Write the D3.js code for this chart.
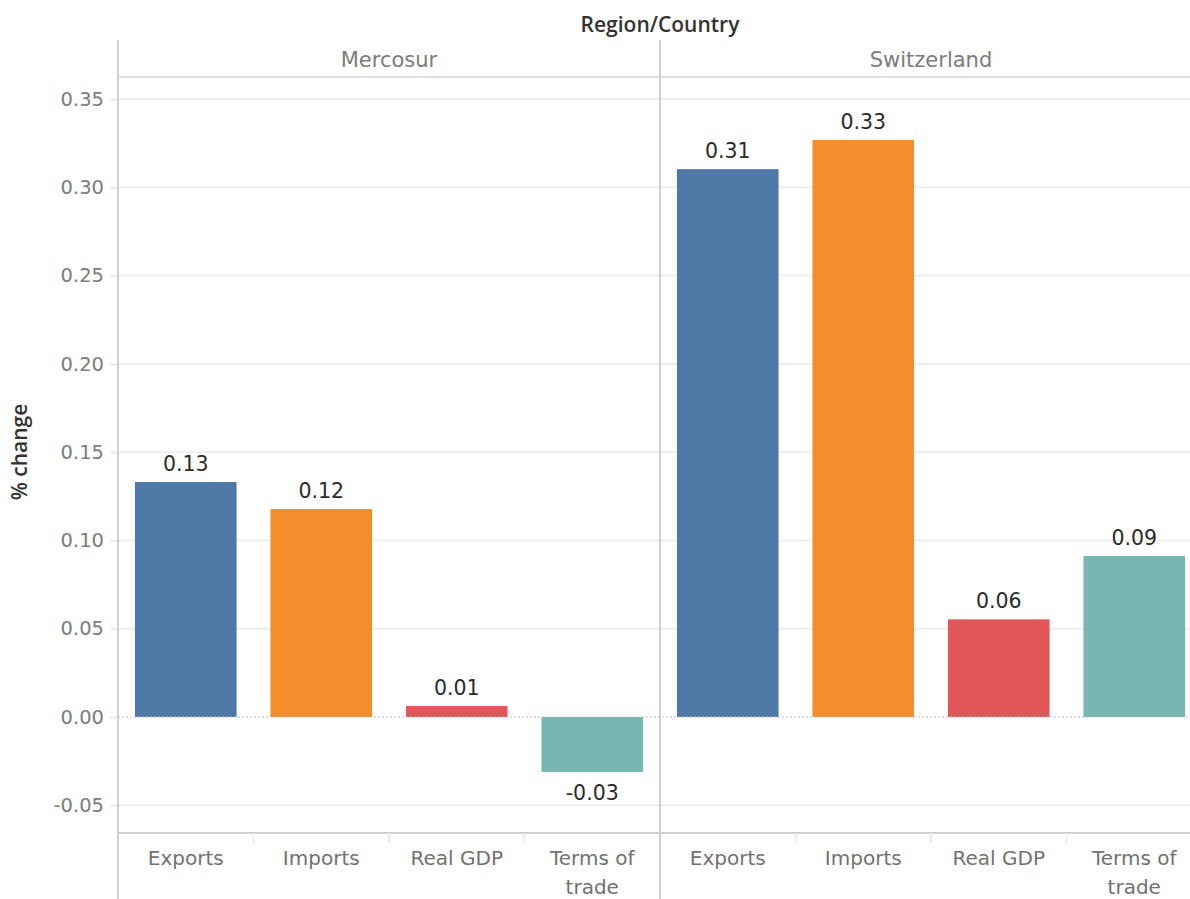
<!DOCTYPE html>
<html><head><meta charset="utf-8">
<script src="https://cdn.jsdelivr.net/npm/d3@7"></script>
<style>body{margin:0;background:#fff}svg{display:block}</style>
</head><body><svg id="c" width="1190" height="899"></svg>
<script>
const regions = ["Mercosur", "Switzerland"];
const measures = ["Exports", "Imports", "Real GDP", "Terms of trade"];
const mercosurValues = [0.1331, 0.1178, 0.0062, -0.0311];
const switzerlandValues = [0.3103, 0.3268, 0.0553, 0.0912];
const yTicks = [-0.05, 0, 0.05, 0.10, 0.15, 0.20, 0.25, 0.30, 0.35];
const colors = ["#4e79a7", "#f28e2b", "#e15759", "#76b7b2"];
const seriesByRegion = [mercosurValues, switzerlandValues];

(function () {
const svg = d3.select("#c");
const FONT = "'DejaVu Sans', sans-serif";
const TFONT = "'Open Sans', sans-serif";
const fmt = v => d3.format(".2f")(v).replace("\u2212", "-");
const plotLeft = 118, panelW = 542, plotTop = 77, plotBottom = 833;
const y = d3.scaleLinear().domain([-0.0657, 0.3625]).range([plotBottom, plotTop]);
const px = d3.scaleBand().domain(regions).range([plotLeft, plotLeft + panelW * 2]);
const color = d3.scaleOrdinal().domain(measures).range(colors);

const gAxis = svg.append("g").attr("transform", `translate(${plotLeft},0)`)
  .call(d3.axisLeft(y).tickValues(yTicks).tickFormat(fmt).tickSize(8).tickPadding(6));
gAxis.select(".domain").remove();
gAxis.selectAll(".tick line").attr("stroke", "#ececec").attr("stroke-width", 2);
gAxis.selectAll(".tick text").attr("fill", "#7c7c7c").style("font-family", FONT).style("font-size", "19.5px");
svg.append("g").selectAll("line").data(yTicks.filter(d => d !== 0)).join("line")
  .attr("x1", plotLeft).attr("x2", 1190).attr("y1", d => y(d)).attr("y2", d => y(d))
  .attr("stroke", "#efefef").attr("stroke-width", 2);

svg.append("line").attr("x1", plotLeft).attr("x2", 1190).attr("y1", plotTop).attr("y2", plotTop).attr("stroke", "#d4d4d4").attr("stroke-width", 1.5);
svg.append("line").attr("x1", plotLeft).attr("x2", 1190).attr("y1", plotBottom).attr("y2", plotBottom).attr("stroke", "#d0d0d0").attr("stroke-width", 2);
svg.append("line").attr("x1", plotLeft).attr("x2", plotLeft).attr("y1", 40).attr("y2", 899).attr("stroke", "#d0d0d0").attr("stroke-width", 2);
svg.append("line").attr("x1", plotLeft + panelW).attr("x2", plotLeft + panelW).attr("y1", 40).attr("y2", 899).attr("stroke", "#d0d0d0").attr("stroke-width", 2);

svg.append("text").attr("x", 660).attr("y", 32).attr("text-anchor", "middle")
  .attr("fill", "#333").style("font-family", TFONT).style("font-size", "21px").style("font-weight", 600).text("Region/Country");
svg.append("text").attr("transform", `translate(27,${452}) rotate(-90)`).attr("text-anchor", "middle")
  .attr("fill", "#333").style("font-family", TFONT).style("font-size", "21px").style("font-weight", 600).text("% change");

regions.forEach((r, ri) => {
  const x0 = px(r);
  const x = d3.scaleBand().domain(measures).range([x0, x0 + panelW]).paddingInner(0.25).paddingOuter(0.125);
  const g = svg.append("g");
  g.append("text").attr("x", x0 + panelW / 2).attr("y", 67).attr("text-anchor", "middle")
    .attr("fill", "#7c7c7c").style("font-family", FONT).style("font-size", "21px").text(r);
  const data = measures.map((m, i) => ({m, v: seriesByRegion[ri][i]}));
  g.selectAll("rect").data(data).join("rect")
    .attr("x", d => x(d.m)).attr("width", x.bandwidth())
    .attr("y", d => y(Math.max(0, d.v))).attr("height", d => Math.abs(y(d.v) - y(0)))
    .attr("fill", d => color(d.m));
  g.selectAll("text.lbl").data(data).join("text").attr("class", "lbl")
    .attr("x", d => x(d.m) + x.bandwidth() / 2)
    .attr("y", d => d.v >= 0 ? y(d.v) - 11 : y(d.v) + 28)
    .attr("text-anchor", "middle").attr("fill", "#2b2b2b")
    .style("font-family", FONT).style("font-size", "20.5px").text(d => fmt(d.v));
  g.selectAll("line.sep").data(measures.slice(1)).join("line").attr("class", "sep")
    .attr("x1", d => x(d) - x.step() * x.paddingInner() / 2).attr("x2", d => x(d) - x.step() * x.paddingInner() / 2)
    .attr("y1", plotBottom).attr("y2", plotBottom + 10).attr("stroke", "#ececec").attr("stroke-width", 2);
  const cl = g.selectAll("text.cat").data(measures).join("text").attr("class", "cat")
    .attr("text-anchor", "middle").attr("fill", "#727272")
    .style("font-family", FONT).style("font-size", "20px");
  cl.each(function(d) {
    const t = d3.select(this);
    const cx = x(d) + x.bandwidth() / 2;
    const lines = d === "Terms of trade" ? ["Terms of", "trade"] : [d];
    lines.forEach((ln, i) => t.append("tspan").attr("x", cx).attr("y", 865 + i * 29).text(ln));
  });
});

svg.append("line").attr("x1", plotLeft).attr("x2", 1190).attr("y1", y(0)).attr("y2", y(0))
  .attr("stroke", "#bdbdbd").attr("stroke-width", 1).attr("stroke-dasharray", "2,2");
})();
</script></body></html>
